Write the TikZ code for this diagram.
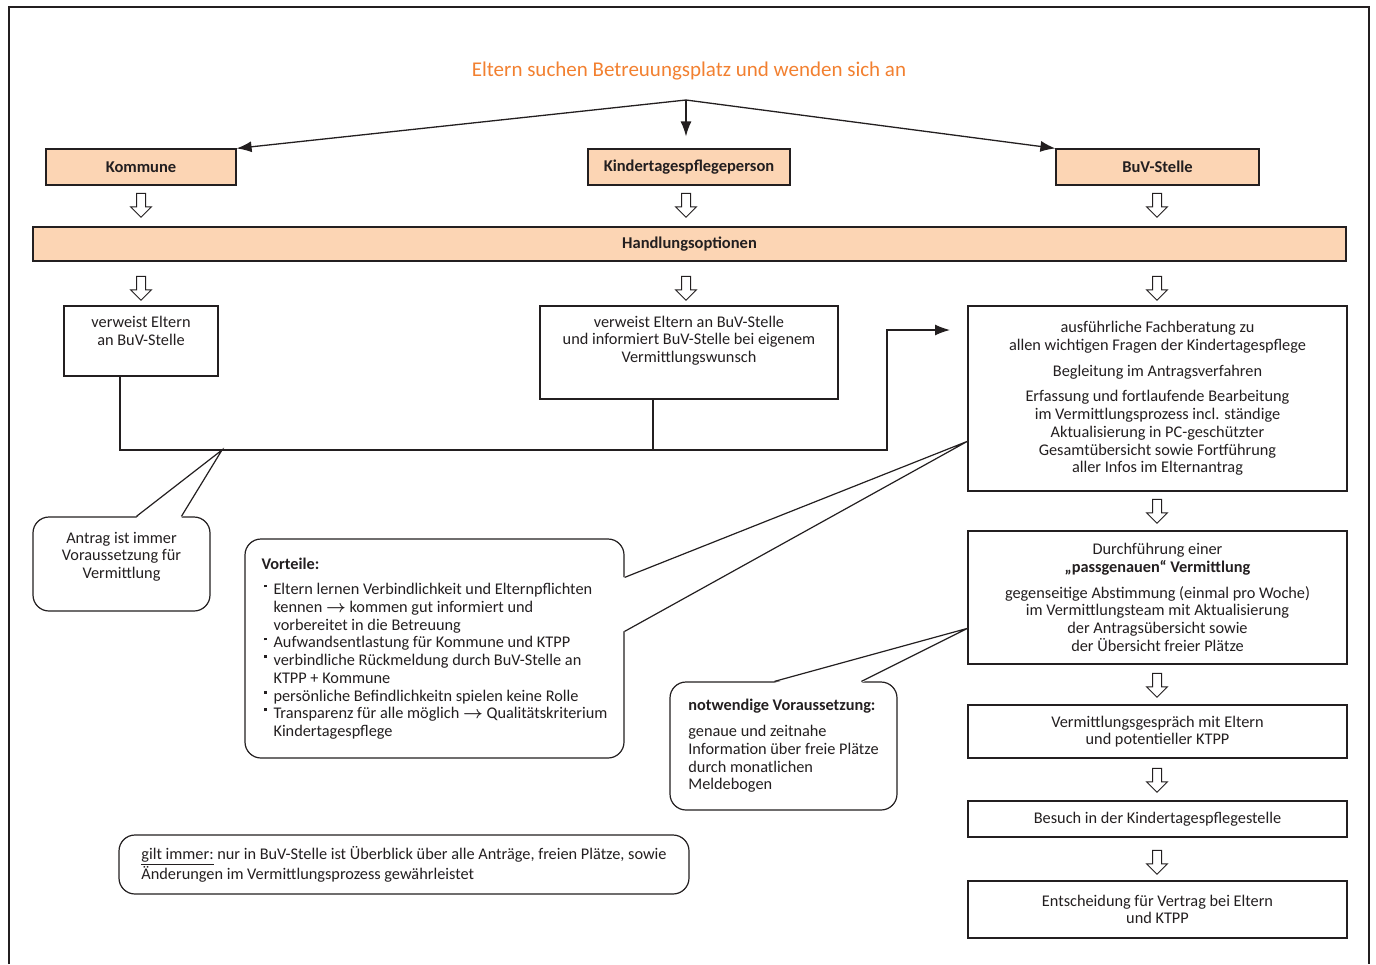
\documentclass[tikz,border=0pt]{standalone}
\usepackage{amsmath}
\usepackage{fontspec}
\setmainfont{Carlito}
\usepackage{tikz}
\usetikzlibrary{arrows.meta,shapes.arrows,calc}
\definecolor{pfirsich}{RGB}{252,213,180}
\definecolor{titelorange}{RGB}{242,128,48}
\definecolor{dunkel}{RGB}{35,31,32}
\newcommand{\pkt}{\makebox[12pt][l]{\hspace{2.5pt}\raisebox{7.5pt}{\rule{2.8pt}{2.8pt}}}}
\newcommand{\einr}{\hspace*{12pt}}
\newcommand{\pf}{\ensuremath{\boldsymbol{\rightarrow}}}
\tikzstyle{every node} = [font=\fontsize{16.3}{17.7}\selectfont, text=dunkel]
\tikzstyle{titel} = [font=\fontsize{21}{24}\selectfont, text=titelorange]
\tikzstyle{kopf} = [rectangle, draw=dunkel, line width=1.2pt, fill=pfirsich, minimum height=36, inner sep=0pt, font=\fontsize{16.5}{17.7}\selectfont\bfseries]
\tikzstyle{schritt} = [rectangle, draw=dunkel, line width=1.2pt, fill=white, align=center, inner sep=0pt, minimum width=379]
\tikzstyle{blase} = [rectangle, rounded corners=16pt, draw=dunkel, line width=1.2pt, fill=white, inner sep=0pt]
\tikzstyle{hohlpfeil} = [single arrow, draw=dunkel, line width=1pt, fill=white, inner sep=4pt, single arrow head extend=6pt, minimum height=24, minimum width=20, shape border rotate=270]
\tikzstyle{pfeil} = [line width=1.3pt, draw=dunkel, -{Latex[length=15pt,width=11pt]}]
\tikzstyle{linie} = [line width=1.3pt, draw=dunkel]

\begin{document}
\begin{tikzpicture}[x=1pt,y=-1pt]
\useasboundingbox (0,0) rectangle (1376,964);
\draw [line width=2.5pt, dunkel] (9,964) -- (9,7) -- (1369,7) -- (1369,964);

% Kopfzeile
\node (titel) [titel] at (689,71) {Eltern suchen Betreuungsplatz und wenden sich an};
\coordinate (gabel) at (686,100);
\node (kommune) [kopf, minimum width=190] at (141,167) {Kommune};
\node (kita) [kopf, minimum width=202] at (689,167) {Kindertagespflegeperson};
\node (buv) [kopf, minimum width=203] at (1157.5,167) {BuV-Stelle};
\node (handlung) [kopf, minimum width=1313, minimum height=34] at (689.5,244) {Handlungsoptionen};

\draw [pfeil] (gabel) -- (kommune.north east);
\draw [pfeil, shorten >=12pt] (gabel) -- (gabel |- kita.north);
\draw [pfeil] (gabel) -- (buv.north west);

% Handlungsoptionen
\node (verweis1) [schritt, minimum width=154, minimum height=70] at (141,341) {verweist Eltern\\an BuV-Stelle\\[2pt]~};
\node (verweis2) [schritt, minimum width=298, minimum height=93] at (689,352.5) {verweist Eltern an BuV-Stelle\\und informiert BuV-Stelle bei eigenem\\Vermittlungswunsch\\[9pt]~};
\node (fach) [schritt, minimum height=185] at (1157.5,398.5) {ausführliche Fachberatung zu\\allen wichtigen Fragen der Kindertagespflege\\[8pt]Begleitung im Antragsverfahren\\[8pt]Erfassung und fortlaufende Bearbeitung\\im Vermittlungsprozess incl. ständige\\Aktualisierung in PC-geschützter\\Gesamtübersicht sowie Fortführung\\aller Infos im Elternantrag};
\node (durchf) [schritt, minimum height=133] at (1157.5,597.5) {Durchführung einer\\\textbf{„passgenauen“ Vermittlung}\\[8pt]gegenseitige Abstimmung (einmal pro Woche)\\im Vermittlungsteam mit Aktualisierung\\der Antragsübersicht sowie\\der Übersicht freier Plätze};
\node (gespraech) [schritt, minimum height=53] at (1157.5,731.5) {Vermittlungsgespräch mit Eltern\\und potentieller KTPP};
\node (besuch) [schritt, minimum height=36] at (1157.5,819) {Besuch in der Kindertagespflegestelle};
\node (entscheid) [schritt, minimum height=57] at (1157.5,909.5) {Entscheidung für Vertrag bei Eltern\\und KTPP};

% Hohlpfeile
\node (hp1) [hohlpfeil] at (141,203) {};
\node (hp2) [hohlpfeil] at (686,203) {};
\node (hp3) [hohlpfeil] at (1157,203) {};
\node (hp4) [hohlpfeil] at (141,286) {};
\node (hp5) [hohlpfeil] at (686,286) {};
\node (hp6) [hohlpfeil] at (1157,286) {};
\node (hp7) [hohlpfeil] at (1157,509) {};
\node (hp8) [hohlpfeil] at (1157,683) {};
\node (hp9) [hohlpfeil] at (1157,778) {};
\node (hp10) [hohlpfeil] at (1157,860) {};

% Sprechblasen
\node (antrag) [blase, align=center, minimum width=177, minimum height=94] at (121.5,564) {Antrag ist immer\\Voraussetzung für\\Vermittlung\\~};
\node (vorteile) [blase, align=left, minimum width=379, minimum height=219] at (434.5,648.5) {\textbf{Vorteile:}\\[8pt]
  \pkt Eltern lernen Verbindlichkeit und Elternpflichten\\
  \einr kennen \pf{} kommen gut informiert und\\
  \einr vorbereitet in die Betreuung\\
  \pkt Aufwandsentlastung für Kommune und KTPP\\
  \pkt verbindliche Rückmeldung durch BuV-Stelle an\\
  \einr KTPP + Kommune\\
  \pkt persönliche Befindlichkeitn spielen keine Rolle\\
  \pkt Transparenz für alle möglich \pf{} Qualitätskriterium\\
  \einr Kindertagespflege};
\node (notwendig) [blase, align=left, minimum width=227, minimum height=128] at (783.5,746) {\textbf{notwendige Voraussetzung:}\\[8pt]genaue und zeitnahe\\Information über freie Plätze\\durch monatlichen\\Meldebogen};
\node (gilt) [blase, align=left, minimum width=570, minimum height=59] at (404,864.5) {\underline{gilt immer:} nur in BuV-Stelle ist Überblick über alle Anträge, freien Plätze, sowie\\Änderungen im Vermittlungsprozess gewährleistet};

% Zeiger der Sprechblasen
\coordinate (spitzeA) at (222,450);
\coordinate (spitzeV) at ($(fach.south west)!0.27!(fach.north west)$);
\coordinate (spitzeN) at ($(durchf.south west)!0.27!(durchf.north west)$);
\fill [white] ($(antrag.north west)+(104,1.5)$) -- (spitzeA) -- ($(antrag.north west)+(149,1.5)$) -- cycle;
\draw [linie, line width=1.2pt] ($(antrag.north west)+(104,0)$) -- (spitzeA) -- ($(antrag.north west)+(149,0)$);
\fill [white] ($(vorteile.north east)+(-1.5,39)$) -- (spitzeV) -- ($(vorteile.north east)+(-1.5,93)$) -- cycle;
\draw [linie, line width=1.2pt] ($(vorteile.north east)+(0,39)$) -- (spitzeV) -- ($(vorteile.north east)+(0,93)$);
\fill [white] ($(notwendig.north west)+(105,1.5)$) -- (spitzeN) -- ($(notwendig.north west)+(192,1.5)$) -- cycle;
\draw [linie, line width=1.2pt] ($(notwendig.north west)+(105,0)$) -- (spitzeN) -- ($(notwendig.north west)+(192,0)$);

% Verbindungen zur BuV-Stelle
\coordinate (sammel) at (887,450);
\coordinate (ziel) at (950,330);
\coordinate (v1fuss) at ($(verweis1.south)+(-21,0)$);
\coordinate (v2fuss) at ($(verweis2.south)+(-36,0)$);
\draw [pfeil] (v1fuss) |- (sammel) |- (ziel);
\draw [linie] (v2fuss) -- (v2fuss |- sammel);
\end{tikzpicture}
\end{document}
